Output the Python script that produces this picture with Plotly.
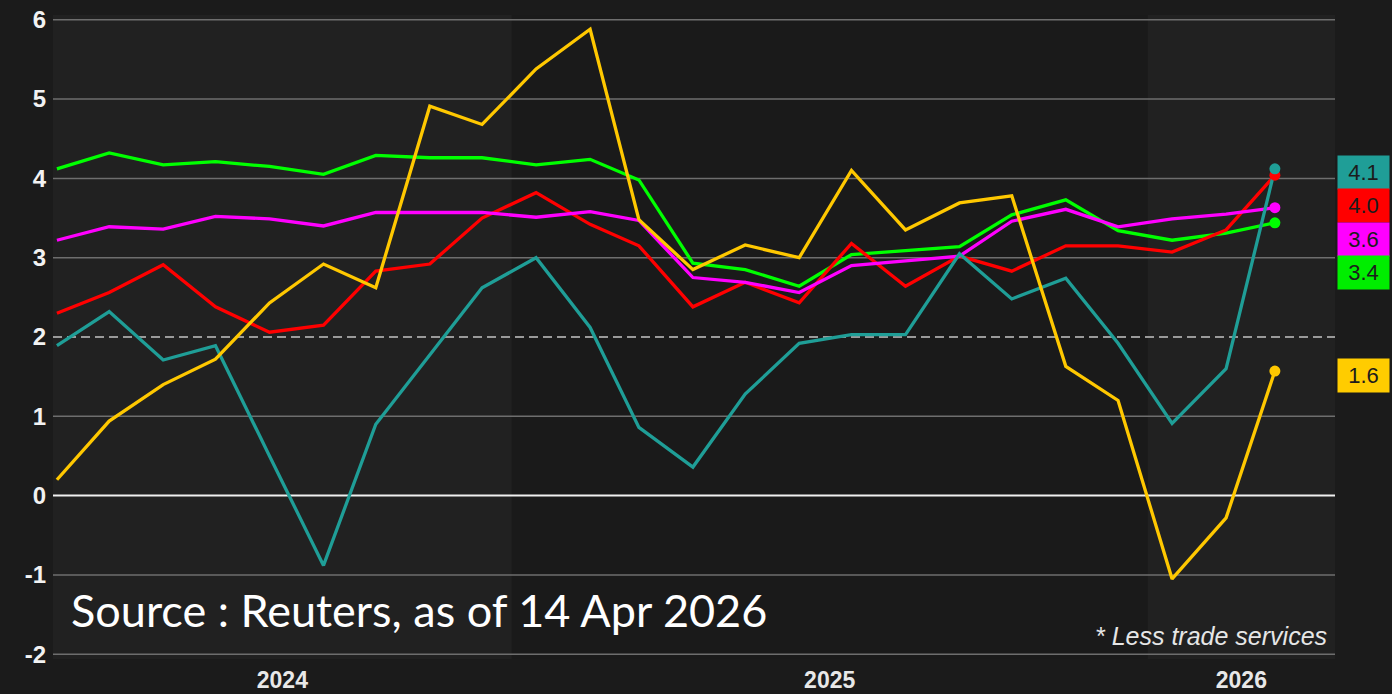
import plotly.graph_objects as go
import pandas as pd

# ---------------- data ----------------
months = ["2024-04", "2024-05", "2024-06", "2024-07", "2024-08", "2024-09",
          "2024-10", "2024-11", "2024-12", "2025-01", "2025-02", "2025-03",
          "2025-04", "2025-05", "2025-06", "2025-07", "2025-08", "2025-09",
          "2025-10", "2025-11", "2025-12", "2026-01", "2026-02", "2026-03"]

teal = [1.89, 2.32, 1.71, 1.89, 0.50, -0.88, 0.90, 1.78, 2.62, 3.00, 2.12, 0.86,
        0.36, 1.28, 1.92, 2.03, 2.03, 3.05, 2.48, 2.74, 1.92, 0.91, 1.60, 4.12]
red = [2.30, 2.56, 2.91, 2.38, 2.06, 2.15, 2.83, 2.92, 3.50, 3.82, 3.42, 3.15,
       2.38, 2.69, 2.43, 3.18, 2.64, 3.02, 2.83, 3.15, 3.15, 3.07, 3.35, 4.04]
magenta = [3.22, 3.39, 3.36, 3.52, 3.49, 3.40, 3.57, 3.57, 3.57, 3.51, 3.58, 3.47,
           2.75, 2.69, 2.56, 2.90, 2.96, 3.02, 3.46, 3.61, 3.39, 3.49, 3.55, 3.63]
green = [4.12, 4.32, 4.17, 4.21, 4.15, 4.05, 4.29, 4.26, 4.26, 4.17, 4.24, 3.98,
         2.93, 2.85, 2.64, 3.04, 3.09, 3.14, 3.54, 3.73, 3.34, 3.22, 3.31, 3.44]
yellow = [0.20, 0.94, 1.40, 1.72, 2.43, 2.92, 2.62, 4.91, 4.68, 5.38, 5.88, 3.48,
          2.85, 3.16, 3.00, 4.10, 3.35, 3.69, 3.78, 1.63, 1.20, -1.05, -0.28, 1.57]

y_ticks = [-2, -1, 0, 1, 2, 3, 4, 5, 6]
y_tick_labels = ["-2", "-1", "0", "1", "2", "3", "4", "5", "6"]
years = ["2024", "2025", "2026"]
target_level = 2
source_text = "Source : Reuters, as of 14 Apr 2026"
note_text = "* Less trade services"

# ---------------- styling ----------------
dates = pd.to_datetime([m + "-15" for m in months])
x_start = pd.Timestamp("2024-04-12 18:00")
x_end = pd.Timestamp("2026-04-18 12:00")
y_range = [-2.06, 6.06]

series = [
    ("Green", green, "#00ff00", "#00ee00"),
    ("Red", red, "#ff0000", "#ff0000"),
    ("Magenta", magenta, "#ff00ff", "#ff00ff"),
    ("Teal", teal, "#1f9e97", "#1f9e97"),
    ("Yellow", yellow, "#ffc800", "#ffcc00"),
]

fig = go.Figure()
for name, vals, col, _ in series:
    fig.add_trace(go.Scatter(x=dates, y=vals, mode="lines", name=name,
                             line=dict(color=col, width=3.3), showlegend=False))
for name, vals, col, _ in series:
    fig.add_trace(go.Scatter(x=[dates[-1]], y=[vals[-1]], mode="markers",
                             marker=dict(color=col, size=11), showlegend=False))

# year bands
shapes = []
year_bounds = [x_start] + [pd.Timestamp(f"{y}-01-01") for y in years[1:]] + [x_end]
for i, yr in enumerate(years):
    if i % 2 == 0:
        shapes.append(dict(type="rect", xref="x", yref="paper",
                           x0=year_bounds[i], x1=year_bounds[i + 1], y0=0, y1=1,
                           fillcolor="#212121", line=dict(width=0), layer="below"))
# grid lines
for t in y_ticks:
    if t == 0:
        line = dict(color="#f0f0f0", width=2)
    elif t == target_level:
        line = dict(color="#9a9a9a", width=2, dash="9px,5px")
    else:
        line = dict(color="#6e6e6e", width=1.5)
    shapes.append(dict(type="line", xref="paper", yref="y", x0=0, x1=1, y0=t, y1=t,
                       line=line, layer="below"))

# year tick positions at centre of visible band
year_centers = [year_bounds[i] + (year_bounds[i + 1] - year_bounds[i]) / 2 for i in range(len(years))]

# end labels, stacked to avoid overlap
annotations = []
label_h = 0.418
order = sorted(series, key=lambda s: -s[1][-1])
prev = None
for name, vals, col, boxcol in order:
    v = vals[-1]
    pos = v if prev is None else min(v, prev - label_h)
    pos_draw = pos - 0.05
    prev = pos
    annotations.append(dict(xref="paper", yref="y", x=1, y=pos_draw, xanchor="left",
                            yanchor="middle", xshift=2, text=f"{v:.1f}", showarrow=False,
                            bgcolor=boxcol, width=45, height=27, borderpad=3,
                            font=dict(family="Arial", size=22, color="#1c1c1c")))

annotations.append(dict(xref="paper", yref="paper", x=0, y=0.076, xshift=16,
                        xanchor="left", yanchor="middle", text=source_text, showarrow=False,
                        font=dict(family="Lato", size=45, color="#ffffff")))
annotations.append(dict(xref="paper", yref="paper", x=1, y=0.036, xshift=-6,
                        xanchor="right", yanchor="middle", text=note_text, showarrow=False,
                        font=dict(family="Arial", size=25, color="#e6e6e6", style="italic")))

fig.update_layout(
    width=1392, height=694,
    margin=dict(l=53, r=57, t=15, b=35, autoexpand=False),
    paper_bgcolor="#1b1b1b",
    plot_bgcolor="#1a1a1a",
    shapes=shapes,
    annotations=annotations,
    showlegend=False,
    xaxis=dict(type="date", range=[x_start, x_end], showgrid=False, zeroline=False,
               tickmode="array", tickvals=year_centers, ticktext=years, ticks="",
               ticklabelstandoff=5, automargin=False,
               tickfont=dict(family="Arial", size=23, color="#e8e8e8", weight="bold"),
               showline=False),
    yaxis=dict(range=y_range, showgrid=False, zeroline=False, tickmode="array",
               tickvals=y_ticks, ticktext=y_tick_labels, ticks="", ticklabelstandoff=6,
               automargin=False,
               tickfont=dict(family="Arial", size=24, color="#f2f2f2", weight="bold"),
               showline=False),
)

fig.write_html("out.html", config={"displayModeBar": False},
               post_script="document.body.style.margin='0';document.body.style.background='#1b1b1b';")
